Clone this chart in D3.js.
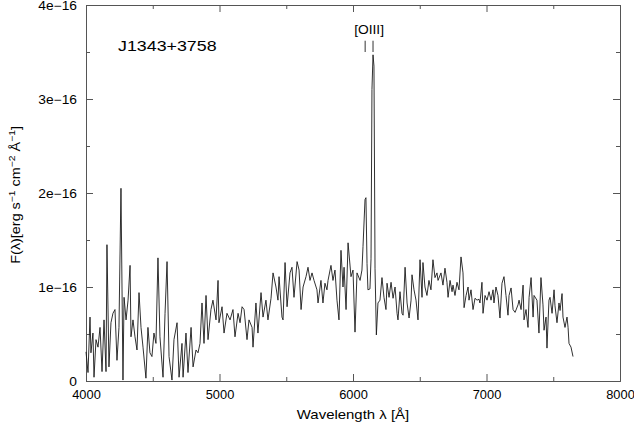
<!DOCTYPE html>
<html>
<head>
<meta charset="utf-8">
<script src="https://cdn.jsdelivr.net/npm/d3@7"></script>
<style>
  body { margin: 0; background: #fff; }
  text { font-family: "Liberation Sans", Arial, sans-serif; fill: #000; }
</style>
</head>
<body>
<div id="vis"></div>
<script>
// spectrum, wavelength in Angstrom, flux in units of 1e-16 erg s-1 cm-2 A-1
var wavelength = [
  4000, 4015, 4030, 4037, 4052, 4060, 4075, 4090, 4105, 4120, 4135, 4150, 4157, 4172, 4187, 4202,
  4217, 4232, 4247, 4262, 4277, 4285, 4300, 4315, 4330, 4337, 4352, 4367, 4382, 4397, 4412, 4427,
  4449, 4464, 4479, 4494, 4509, 4524, 4539, 4554, 4577, 4592, 4607, 4622, 4644, 4659, 4682, 4697,
  4719, 4727, 4749, 4764, 4787, 4802, 4824, 4839, 4854, 4869, 4884, 4899, 4914, 4936, 4951, 4974,
  4989, 4996, 5019, 5034, 5056, 5079, 5101, 5116, 5139, 5154, 5169, 5184, 5206, 5221, 5244, 5251,
  5273, 5288, 5311, 5326, 5348, 5363, 5386, 5401, 5423, 5438, 5446, 5468, 5476, 5491, 5506, 5528,
  5543, 5558, 5581, 5596, 5611, 5626, 5648, 5663, 5678, 5693, 5708, 5730, 5738, 5760, 5775, 5790,
  5805, 5813, 5835, 5850, 5865, 5880, 5895, 5910, 5925, 5933, 5948, 5963, 5985, 6000, 6015, 6030,
  6053, 6067, 6075, 6090, 6097, 6105, 6112, 6127, 6135, 6142, 6150, 6157, 6165, 6175, 6187, 6202,
  6217, 6232, 6247, 6255, 6270, 6285, 6300, 6315, 6330, 6337, 6352, 6367, 6375, 6390, 6405, 6420,
  6435, 6442, 6457, 6472, 6487, 6502, 6517, 6524, 6539, 6554, 6569, 6584, 6599, 6614, 6629, 6637,
  6659, 6674, 6689, 6704, 6712, 6727, 6742, 6749, 6764, 6779, 6794, 6809, 6824, 6832, 6847, 6862,
  6869, 6884, 6899, 6914, 6929, 6944, 6951, 6966, 6974, 6989, 7004, 7019, 7034, 7049, 7056, 7071,
  7086, 7101, 7116, 7131, 7146, 7161, 7169, 7184, 7199, 7214, 7236, 7244, 7259, 7274, 7281, 7296,
  7311, 7319, 7334, 7349, 7356, 7378, 7393, 7408, 7423, 7431, 7446, 7453, 7468, 7476, 7491, 7506,
  7513, 7528, 7543, 7551, 7566, 7573, 7588, 7603, 7611, 7618, 7633, 7648
];
var flux = [
  0.31, 0.09, 0.68, 0.30, 0.51, 0.04, 0.44, 0.36, 0.57, 0.10, 0.65, 0.10, 1.45, 0.15, 0.62, 0.72,
  0.76, 0.22, 0.57, 2.05, 0.01, 0.89, 0.65, 0.86, 1.23, 0.47, 0.65, 0.47, 0.33, 0.94, 0.57, 0.36,
  0.03, 0.57, 0.30, 0.26, 0.51, 0.40, 1.31, 0.47, 0.04, 0.72, 1.27, 0.26, 0.01, 0.44, 0.62, 0.04,
  0.40, 0.04, 0.51, 0.09, 0.57, 0.15, 0.33, 0.30, 0.40, 0.83, 0.40, 0.91, 0.44, 0.76, 0.86, 0.65,
  1.07, 0.62, 0.79, 0.51, 0.72, 0.65, 0.76, 0.47, 0.72, 0.62, 0.79, 0.76, 0.44, 0.65, 0.57, 0.36,
  0.83, 0.51, 0.94, 0.68, 0.86, 0.65, 0.88, 1.15, 1.00, 0.86, 1.11, 0.68, 0.65, 1.26, 0.79, 1.15,
  1.21, 0.89, 1.27, 1.18, 0.76, 1.00, 1.11, 1.21, 1.07, 1.15, 1.07, 0.97, 0.83, 1.07, 0.83, 1.04,
  0.97, 1.07, 1.23, 1.07, 1.18, 0.86, 0.65, 1.39, 1.00, 1.21, 0.76, 1.47, 1.11, 1.18, 0.52, 1.15,
  1.07, 1.18, 1.43, 1.93, 1.95, 1.25, 0.97, 0.98, 1.30, 3.10, 3.47, 3.35, 1.20, 0.49, 0.83, 0.86,
  1.10, 0.89, 0.76, 1.04, 0.89, 1.05, 0.88, 1.00, 0.72, 0.65, 0.95, 0.72, 0.70, 1.21, 0.83, 0.67,
  0.86, 1.13, 0.97, 0.86, 0.65, 1.29, 0.89, 1.26, 1.00, 0.91, 1.07, 0.97, 1.29, 1.10, 1.15, 1.07,
  1.15, 1.02, 1.20, 1.05, 0.89, 1.07, 0.95, 1.02, 0.91, 1.05, 0.97, 1.32, 1.15, 0.78, 0.91, 1.00,
  0.86, 0.97, 0.76, 0.88, 0.86, 0.87, 0.83, 1.05, 0.72, 0.91, 0.86, 0.95, 0.86, 0.97, 0.83, 1.00,
  0.91, 0.67, 1.04, 1.11, 0.91, 0.70, 0.91, 0.99, 0.76, 0.73, 0.81, 0.86, 0.76, 1.02, 0.65, 0.76,
  0.57, 0.89, 1.10, 0.68, 0.91, 0.86, 0.51, 1.10, 0.81, 0.54, 0.68, 0.35, 0.86, 0.89, 0.72, 0.97,
  0.80, 0.62, 0.83, 0.75, 0.93, 0.68, 0.57, 0.68, 0.57, 0.40, 0.36, 0.26
];

var xMajorTicks = [4000, 5000, 6000, 7000, 8000];
var xMinorTicks = [4500, 5500, 6500, 7500];
var yMajorTicks = [0, 1, 2, 3, 4];
var yMinorTicks = [0.5, 1.5, 2.5, 3.5];

// [OIII] 4959/5007 marker positions, observed frame
var lineMarks = [6091, 6150];
var lineLabel = "[OIII]";
var objectName = "J1343+3758";

var width = 634;
var height = 422;
var margin = {top: 5, right: 14, bottom: 41, left: 86};
var sx = 1.15; // fonts in the original are a bit wide

var svg = d3.select('#vis').append('svg')
    .attr('width', width)
    .attr('height', height);

var x = d3.scaleLinear().domain([4000, 8000]).range([margin.left, width - margin.right]);
var y = d3.scaleLinear().domain([0, 4]).range([height - margin.bottom, margin.top]);

function stretch(sel, s) {
    s = s || sx;
    sel.each(function () {
        var t = d3.select(this);
        var tx = +t.attr('x') || 0;
        t.attr('transform', 'translate(' + (tx * (1 - s)) + ',0) scale(' + s + ',1)');
    });
}

function yFormat(d) {
    return d === 0 ? '0' : d + 'e\u221216';
}

function styleAxis(g) {
    g.selectAll('.domain').attr('stroke', '#555');
    g.selectAll('.tick line').attr('stroke', '#555');
    g.selectAll('text').style('font-size', '12px').attr('fill', '#000');
}

var bottom = height - margin.bottom;
var right = width - margin.right;

// bottom
svg.append('g').attr('transform', 'translate(0,' + bottom + ')')
    .call(d3.axisBottom(x).tickValues(xMajorTicks).tickSizeInner(-7).tickSizeOuter(0)
        .tickPadding(9).tickFormat(d3.format('d')))
    .call(styleAxis).selectAll('text').call(stretch, 1.07);
svg.append('g').attr('transform', 'translate(0,' + bottom + ')')
    .call(d3.axisBottom(x).tickValues(xMinorTicks).tickSizeInner(-4).tickSizeOuter(0).tickFormat(''))
    .call(styleAxis);
// top
svg.append('g').attr('transform', 'translate(0,' + margin.top + ')')
    .call(d3.axisTop(x).tickValues(xMajorTicks).tickSizeInner(-7).tickSizeOuter(0).tickFormat(''))
    .call(styleAxis);
svg.append('g').attr('transform', 'translate(0,' + margin.top + ')')
    .call(d3.axisTop(x).tickValues(xMinorTicks).tickSizeInner(-4).tickSizeOuter(0).tickFormat(''))
    .call(styleAxis);
// left
svg.append('g').attr('transform', 'translate(' + margin.left + ',0)')
    .call(d3.axisLeft(y).tickValues(yMajorTicks).tickSizeInner(-7).tickSizeOuter(0)
        .tickPadding(9).tickFormat(yFormat))
    .call(styleAxis).selectAll('text').attr('dy', '0.4em').call(stretch);
svg.append('g').attr('transform', 'translate(' + margin.left + ',0)')
    .call(d3.axisLeft(y).tickValues(yMinorTicks).tickSizeInner(-4).tickSizeOuter(0).tickFormat(''))
    .call(styleAxis);
// right
svg.append('g').attr('transform', 'translate(' + right + ',0)')
    .call(d3.axisRight(y).tickValues(yMajorTicks).tickSizeInner(-7).tickSizeOuter(0).tickFormat(''))
    .call(styleAxis);
svg.append('g').attr('transform', 'translate(' + right + ',0)')
    .call(d3.axisRight(y).tickValues(yMinorTicks).tickSizeInner(-4).tickSizeOuter(0).tickFormat(''))
    .call(styleAxis);

// spectrum
var points = wavelength.map(function (w, i) {
    return {w: w, f: flux[i]};
});
var line = d3.line()
    .x(function (d) { return x(d.w); })
    .y(function (d) { return y(d.f); });

svg.append('path')
    .datum(points)
    .attr('d', line)
    .attr('fill', 'none')
    .attr('stroke', '#1a1a1a')
    .attr('stroke-width', 0.9)
    .attr('stroke-linejoin', 'round');

// [OIII] markers
svg.selectAll('.mark')
    .data(lineMarks)
    .enter().append('line')
    .attr('class', 'mark')
    .attr('x1', function (d) { return x(d); })
    .attr('x2', function (d) { return x(d); })
    .attr('y1', y(3.62))
    .attr('y2', y(3.50))
    .attr('stroke', '#333')
    .attr('stroke-width', 1);

svg.append('text')
    .attr('x', x(d3.mean(lineMarks)))
    .attr('y', y(3.69))
    .attr('text-anchor', 'middle')
    .style('font-size', '12px')
    .text(lineLabel)
    .call(stretch);

svg.append('text')
    .attr('x', x(4240))
    .attr('y', y(3.51))
    .style('font-size', '15.5px')
    .text(objectName)
    .call(stretch);

// axis titles
svg.append('text')
    .attr('x', x(6000))
    .attr('y', 419)
    .attr('text-anchor', 'middle')
    .style('font-size', '13px')
    .text('Wavelength \u03bb [\u00c5]')
    .call(stretch);

var yt = svg.append('text')
    .attr('transform', 'translate(20,' + y(1.98) + ') rotate(-90) scale(' + sx + ',1)')
    .attr('text-anchor', 'middle')
    .style('font-size', '12.5px');
yt.append('tspan').text('F(\u03bb)[erg s');
yt.append('tspan').attr('dy', -5).style('font-size', '9px').text('\u22121');
yt.append('tspan').attr('dy', 5).text(' cm');
yt.append('tspan').attr('dy', -5).style('font-size', '9px').text('\u22122');
yt.append('tspan').attr('dy', 5).text(' \u00c5');
yt.append('tspan').attr('dy', -5).style('font-size', '9px').text('\u22121');
yt.append('tspan').attr('dy', 5).text(']');
</script>
</body>
</html>
